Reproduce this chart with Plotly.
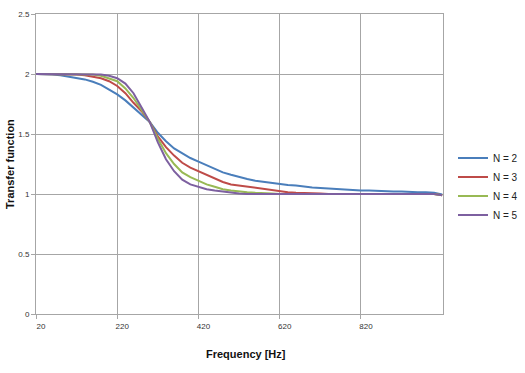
import plotly.graph_objects as go

freq = list(range(20, 1021, 20))

n2 = [2.0, 2.0, 1.995, 1.99, 1.98, 1.97, 1.955, 1.935, 1.91, 1.87, 1.83, 1.78, 1.72, 1.66, 1.60,
      1.51, 1.44, 1.38, 1.34, 1.30, 1.27, 1.24, 1.21, 1.18, 1.16, 1.14, 1.125, 1.11, 1.10, 1.09,
      1.08, 1.075, 1.07, 1.06, 1.055, 1.05, 1.045, 1.04, 1.04, 1.035, 1.03, 1.03, 1.025, 1.025,
      1.02, 1.02, 1.015, 1.015, 1.015, 1.01, 0.995]
n3 = [2.0, 2.0, 2.0, 2.0, 2.0, 1.995, 1.99, 1.98, 1.965, 1.94, 1.90, 1.84, 1.76, 1.69, 1.60,
      1.48, 1.39, 1.32, 1.26, 1.22, 1.19, 1.16, 1.13, 1.10, 1.08, 1.07, 1.06, 1.05, 1.04, 1.03,
      1.02, 1.015, 1.01, 1.01, 1.005, 1.005, 1.0, 1.0, 1.0, 1.0, 1.0, 1.0, 1.0, 1.0,
      1.0, 1.0, 1.0, 1.0, 1.0, 1.0, 0.99]
n4 = [2.0, 2.0, 2.0, 2.0, 2.0, 2.0, 2.0, 1.995, 1.985, 1.965, 1.94, 1.88, 1.80, 1.70, 1.60,
      1.46, 1.34, 1.25, 1.18, 1.14, 1.11, 1.08, 1.06, 1.04, 1.03, 1.02, 1.015, 1.01, 1.01, 1.005,
      1.0, 1.0, 1.0, 1.0, 1.0, 1.0, 1.0, 1.0, 1.0, 1.0, 1.0, 1.0, 1.0, 1.0,
      1.0, 1.0, 1.0, 1.0, 1.0, 1.0, 0.99]
n5 = [2.0, 2.0, 2.0, 2.0, 2.0, 2.0, 2.0, 2.0, 1.995, 1.985, 1.965, 1.92, 1.84, 1.72, 1.60,
      1.43, 1.29, 1.19, 1.12, 1.08, 1.06, 1.04, 1.03, 1.02, 1.01, 1.005, 1.0, 1.0, 1.0, 1.0,
      1.0, 1.0, 1.0, 1.0, 1.0, 1.0, 1.0, 1.0, 1.0, 1.0, 1.0, 1.0, 1.0, 1.0,
      1.0, 1.0, 1.0, 1.0, 1.0, 1.0, 0.99]

series = [("N = 2", n2, "#4A7EBB"), ("N = 3", n3, "#BE4B48"),
          ("N = 4", n4, "#98B954"), ("N = 5", n5, "#7D60A0")]

x_ticks = [20, 220, 420, 620, 820]
y_ticks = [0, 0.5, 1, 1.5, 2, 2.5]

fig = go.Figure()
for name, ys, col in series:
    fig.add_trace(go.Scatter(x=freq, y=ys, name=name, mode="lines",
                             line=dict(color=col, width=2)))

grid = "#A6A6A6"
fig.update_layout(
    width=525, height=373,
    margin=dict(l=36, r=82, t=14, b=59, autoexpand=False),
    paper_bgcolor="white", plot_bgcolor="white",
    font=dict(family="Liberation Sans, Arial, sans-serif", color="#333333"),
    showlegend=True,
    legend=dict(x=(453 - 36) / 407, y=0.425, xanchor="left", yanchor="middle",
                font=dict(size=10, color="#222222"), itemwidth=30,
                bgcolor="rgba(0,0,0,0)", tracegroupgap=0),
    xaxis=dict(range=[20, 1022], tickvals=x_ticks, ticktext=[str(v) for v in x_ticks],
               showgrid=True, gridcolor=grid, gridwidth=1, automargin=False,
               showline=True, linecolor=grid, linewidth=1, mirror=True,
               ticks="outside", ticklen=4, tickcolor=grid,
               tickfont=dict(size=8, color="#333333"), ticklabelshift=5,
               zeroline=False),
    yaxis=dict(range=[0, 2.5], tickvals=y_ticks, ticktext=["0", "0.5", "1", "1.5", "2", "2.5"],
               showgrid=True, gridcolor=grid, gridwidth=1, automargin=False,
               showline=True, linecolor=grid, linewidth=1, mirror=True,
               ticks="outside", ticklen=4, tickcolor=grid,
               tickfont=dict(size=8, color="#333333"),
               zeroline=False),
    annotations=[
        dict(text="<b>Frequency [Hz]</b>", xref="paper", yref="paper",
             x=(246 - 36) / 407, y=-(354 - 314) / 300, xanchor="center", yanchor="middle",
             showarrow=False, font=dict(size=11, color="#111111")),
        dict(text="<b>Transfer function</b>", xref="paper", yref="paper",
             x=-(36 - 10) / 407, y=0.5, xanchor="center", yanchor="middle",
             textangle=-90, showarrow=False, font=dict(size=11, color="#111111")),
    ],
)

# remove the browser's default 8px body margin so the figure sits at the page origin
fig.write_html("out.html", config={"displayModeBar": False},
               post_script="document.body.style.margin='0';")
